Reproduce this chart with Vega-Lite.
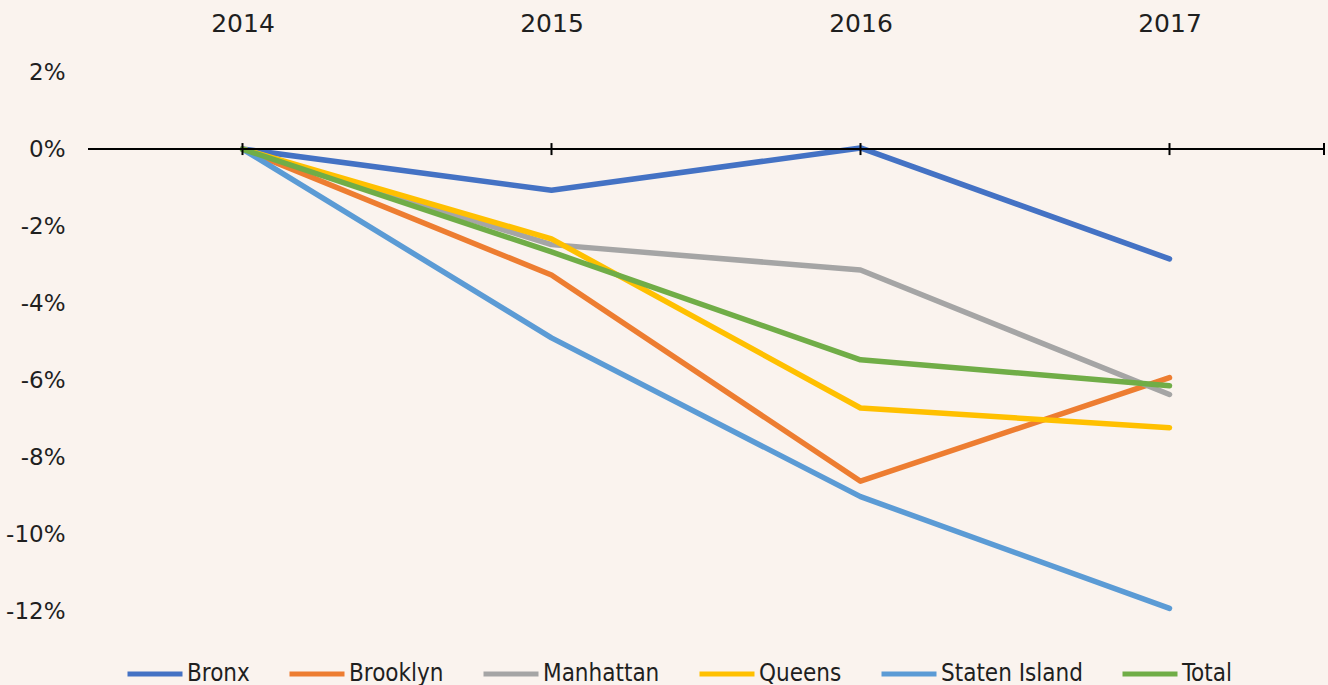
{
  "$schema": "https://vega.github.io/schema/vega-lite/v6.json",
  "width": 1236,
  "height": 578,
  "autosize": {"type": "none"},
  "padding": {"left": 88, "top": 72, "right": 4, "bottom": 35},
  "background": "#FAF3EE",
  "config": {"view": {"stroke": null}, "font": "DejaVu Sans"},
  "data": {
    "values": [
      {"borough": "Bronx", "year": 2014, "value": 0},
      {"borough": "Bronx", "year": 2015, "value": -1.07},
      {"borough": "Bronx", "year": 2016, "value": 0.03},
      {"borough": "Bronx", "year": 2017, "value": -2.85},
      {"borough": "Brooklyn", "year": 2014, "value": 0},
      {"borough": "Brooklyn", "year": 2015, "value": -3.27},
      {"borough": "Brooklyn", "year": 2016, "value": -8.62},
      {"borough": "Brooklyn", "year": 2017, "value": -5.93},
      {"borough": "Manhattan", "year": 2014, "value": 0},
      {"borough": "Manhattan", "year": 2015, "value": -2.48},
      {"borough": "Manhattan", "year": 2016, "value": -3.14},
      {"borough": "Manhattan", "year": 2017, "value": -6.37},
      {"borough": "Queens", "year": 2014, "value": 0},
      {"borough": "Queens", "year": 2015, "value": -2.33},
      {"borough": "Queens", "year": 2016, "value": -6.72},
      {"borough": "Queens", "year": 2017, "value": -7.23},
      {"borough": "Staten Island", "year": 2014, "value": 0},
      {"borough": "Staten Island", "year": 2015, "value": -4.9},
      {"borough": "Staten Island", "year": 2016, "value": -9.02},
      {"borough": "Staten Island", "year": 2017, "value": -11.92},
      {"borough": "Total", "year": 2014, "value": 0},
      {"borough": "Total", "year": 2015, "value": -2.67},
      {"borough": "Total", "year": 2016, "value": -5.47},
      {"borough": "Total", "year": 2017, "value": -6.14}
    ]
  },
  "layer": [
    {
      "mark": {"type": "line", "strokeWidth": 5.5, "strokeCap": "round", "strokeJoin": "round"},
      "encoding": {
        "x": {
          "field": "year",
          "type": "quantitative",
          "scale": {"domain": [2013.5, 2017.5], "nice": false, "zero": false},
          "axis": {
            "orient": "top",
            "title": null,
            "values": [2014, 2015, 2016, 2017],
            "format": "d",
            "domain": false,
            "ticks": false,
            "tickSize": 0,
            "grid": false,
            "labelPadding": 36,
            "labelFontSize": 25,
            "labelFont": "DejaVu Sans",
            "labelColor": "#1f1f1f"
          }
        },
        "y": {
          "field": "value",
          "type": "quantitative",
          "scale": {"domain": [-13, 2], "nice": false, "zero": false},
          "axis": {
            "title": null,
            "values": [2, 0, -2, -4, -6, -8, -10, -12],
            "labelExpr": "datum.value + '%'",
            "domain": false,
            "ticks": false,
            "tickSize": 0,
            "grid": false,
            "labelPadding": 23,
            "labelFontSize": 23,
            "labelFont": "DejaVu Sans",
            "labelColor": "#1f1f1f"
          }
        },
        "color": {
          "field": "borough",
          "type": "nominal",
          "scale": {
            "domain": ["Bronx", "Brooklyn", "Manhattan", "Queens", "Staten Island", "Total"],
            "range": ["#4472C4", "#ED7D31", "#A5A5A5", "#FFC000", "#5B9BD5", "#70AD47"]
          },
          "legend": {
            "orient": "none",
            "legendX": 37,
            "legendY": 572,
            "direction": "horizontal",
            "title": null,
            "padding": 0,
            "labelFont": "DejaVu Sans Condensed, Liberation Sans",
            "labelFontSize": 24,
            "labelColor": "#1f1f1f",
            "labelLimit": 400,
            "labelOffset": 2,
            "columnPadding": 29,
            "symbolType": "stroke",
            "symbolSize": 3025,
            "symbolStrokeWidth": 5
          }
        }
      }
    },
    {
      "mark": {"type": "rule", "color": "#000000", "strokeWidth": 2},
      "encoding": {
        "x": {"datum": 2013.5, "type": "quantitative"},
        "x2": {"datum": 2017.5},
        "y": {"datum": 0, "type": "quantitative"}
      }
    },
    {
      "data": {"values": [{"t": 2014}, {"t": 2015}, {"t": 2016}, {"t": 2017}, {"t": 2017.5}]},
      "mark": {"type": "tick", "orient": "vertical", "size": 12, "thickness": 2, "color": "#000000", "opacity": 1},
      "encoding": {
        "x": {"field": "t", "type": "quantitative"},
        "y": {"datum": 0, "type": "quantitative"}
      }
    }
  ]
}
